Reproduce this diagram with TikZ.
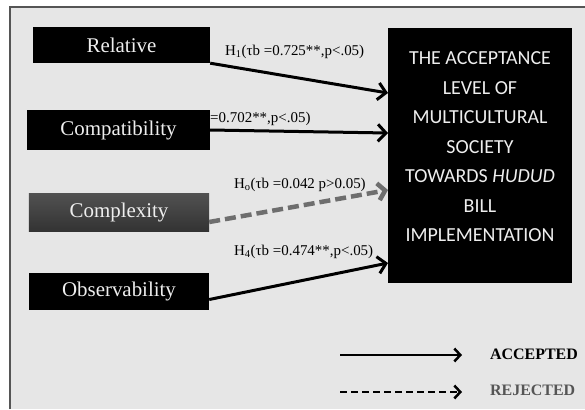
\documentclass[tikz,border=0pt]{standalone}
\usepackage{fontspec}
\setmainfont{Liberation Serif}
\newfontfamily\boxsans{Carlito}
\usetikzlibrary{arrows.meta}
\definecolor{panelgrey}{HTML}{E6E6E6}
\definecolor{framegrey}{HTML}{555555}
\definecolor{rejgrey}{HTML}{6E6E6E}
\definecolor{boxtext}{HTML}{EEEEEE}
\begin{document}
\begin{tikzpicture}[x=1bp,y=-1bp,
  varbox/.style={fill=black, text=boxtext, minimum width=180bp, minimum height=37bp,
    inner sep=0pt, font=\fontsize{21}{24}\selectfont},
  hyp/.style={anchor=west, inner sep=0pt, font=\fontsize{15}{17}\selectfont},
  acc/.style={line width=3bp, -{Straight Barb[length=8bp,width=17bp]}},
  rej/.style={rejgrey, line width=4.5bp, dash pattern=on 11bp off 5bp,
    -{Straight Barb[length=7bp,width=17bp]}},
  keytext/.style={anchor=west, inner sep=0pt, font=\fontsize{16}{18}\selectfont\bfseries}]
\useasboundingbox (0,0) rectangle (585,409);
\fill[panelgrey] (10,7) rectangle (585,409);
\draw[framegrey, line width=1.5bp] (10,409) -- (10,7) -- (585,7);
% predictors
\node[varbox, minimum width=177bp, minimum height=36bp] (relative) at (121.5,45) {Relative};
\node[varbox, minimum width=183bp, minimum height=40bp] (compat) at (118.5,130) {Compatibility};
\node[varbox, fill=none, top color=black!68, bottom color=black!80, minimum height=38bp] (complex) at (119,212) {Complexity};
\node[varbox] (observ) at (119,291.5) {Observability};
% outcome
\node[fill=black, minimum width=184bp, minimum height=255bp, inner sep=0pt] (accept) at (480,155.5) {};
\node[text=boxtext, align=center, inner sep=0pt, font=\boxsans\fontsize{20}{29.6}\selectfont] (accepttext) at (480,147)
  {THE ACCEPTANCE\\LEVEL OF\\MULTICULTURAL\\SOCIETY\\TOWARDS \textit{HUDUD}\\BILL\\IMPLEMENTATION};
\coordinate (in1) at (388,93);
\coordinate (in2) at (388,133);
\coordinate (in3) at (388,190);
\coordinate (in4) at (388,263);
% paths
\draw[acc] (relative.south east) -- (in1);
\draw[acc] (compat.east) -- (in2);
\draw[rej] ([yshift=-10bp]complex.east) -- (in3);
\draw[acc] ([yshift=-8bp]observ.east) -- (in4);
\node[hyp] (h1) at (225,52) {H\textsubscript{1}(τb =0.725**,p<.05)};
\node[hyp] (h2) at (210,119) {=0.702**,p<.05)};
\node[hyp] (h3) at (234,185) {H\textsubscript{o}(τb =0.042 p>0.05)};
\node[hyp] (h4) at (234,252) {H\textsubscript{4}(τb =0.474**,p<.05)};
% key
\coordinate (k1a) at (340,355);
\coordinate (k1b) at (462,355);
\coordinate (k2a) at (340,392);
\coordinate (k2b) at (462,392);
\draw[line width=2.5bp, -{Straight Barb[length=6bp,width=13bp]}] (k1a) -- (k1b);
\draw[line width=2.5bp, dash pattern=on 7bp off 4bp, -{Straight Barb[length=6bp,width=13bp]}] (k2a) -- (k2b);
\node[keytext] (acclbl) at (490,354) {ACCEPTED};
\node[keytext, text=framegrey] (rejlbl) at (490,390) {REJECTED};
\end{tikzpicture}
\end{document}
